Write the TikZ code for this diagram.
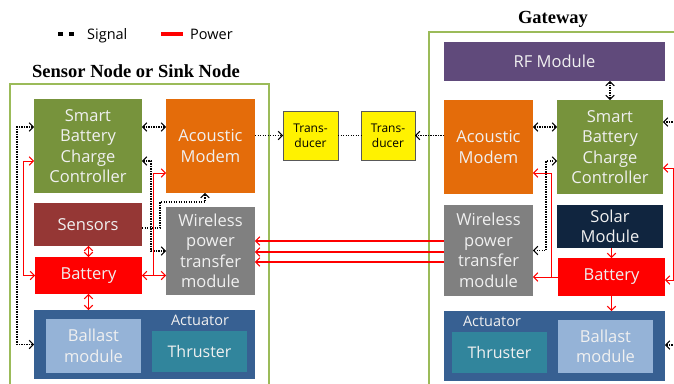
\documentclass[tikz,border=0pt]{standalone}
\usepackage{fontspec}
\setmainfont{Open Sans}
\newfontfamily\titlefont{Liberation Serif}
\usetikzlibrary{arrows.meta}

\definecolor{framegreen}{HTML}{9BBB59}
\definecolor{ctrlgreen}{HTML}{77933C}
\definecolor{modemorange}{HTML}{E46C0A}
\definecolor{sensred}{HTML}{953735}
\definecolor{wptgray}{HTML}{808080}
\definecolor{actblue}{HTML}{376092}
\definecolor{ballblue}{HTML}{95B3D7}
\definecolor{thrteal}{HTML}{31859C}
\definecolor{rfpurple}{HTML}{604A7B}
\definecolor{solarnavy}{HTML}{10253F}
\definecolor{boxtext}{HTML}{F0F0F0}
\definecolor{transborder}{HTML}{595959}

\begin{document}
\begin{tikzpicture}[x=1pt,y=-1pt,
  blk/.style={inner sep=0pt, outer sep=0pt, align=center, text=boxtext,
    font=\fontsize{16.5}{20.5}\selectfont},
  trans/.style={inner sep=0pt, outer sep=0pt, align=center, fill=yellow,
    draw=transborder, line width=1pt, font=\fontsize{12}{15}\selectfont},
  frame/.style={draw=framegreen, line width=1.2pt},
  heading/.style={font=\titlefont\bfseries\fontsize{18.5}{22}\selectfont, anchor=base},
  sublabel/.style={text=boxtext, font=\fontsize{14.5}{17}\selectfont, inner sep=0pt},
  legendtext/.style={font=\fontsize{14.5}{17}\selectfont, anchor=base west, inner sep=0pt},
  sig/.style={line width=1.1pt, dash pattern=on 1.2pt off 1.3pt, black},
  pow/.style={line width=1pt, red},
  wire/.style={line width=1.4pt, red},
  >={Straight Barb[length=4pt,width=8.5pt,line width=1.1pt]}]

\useasboundingbox (0,0) rectangle (674,383);
\clip (0,0) rectangle (674,383);

% legend
\coordinate (sigA) at (58,34);
\coordinate (sigB) at (75,34);
\draw[line width=4.5pt, dash pattern=on 4.5pt off 6.5pt] (sigA) -- (sigB);
\node[legendtext] (sigtxt) at (87,39) {Signal};
\coordinate (powA) at (161,34);
\coordinate (powB) at (183,34);
\draw[red, line width=4pt] (powA) -- (powB);
\node[legendtext] (powtxt) at (190,39) {Power};

% group frames and headings
\draw[frame] (10,84) rectangle (269,400);
\node[heading] (ltitle) at (136,77) {Sensor Node or Sink Node};
\draw[frame] (429,32) rectangle (700,400);
\node[heading] (rtitle) at (553,23) {Gateway};

% sensor / sink node blocks
\node[blk, fill=ctrlgreen, minimum width=108pt, minimum height=94pt] (lsbcc) at (88,146) {Smart\\Battery\\Charge\\Controller};
\node[blk, fill=modemorange, minimum width=89pt, minimum height=94pt] (lmodem) at (210.5,146) {Acoustic\\Modem};
\node[blk, fill=sensred, minimum width=108pt, minimum height=43pt] (lsens) at (88,224.5) {Sensors};
\node[blk, fill=red, minimum width=107pt, minimum height=37pt] (lbat) at (88.5,275.5) {Battery};
\node[blk, fill=wptgray, minimum width=89pt, minimum height=88pt] (lwpt) at (210.5,251) {Wireless\\power\\transfer\\module};
\node[blk, fill=actblue, minimum width=221pt, minimum height=69pt] (lact) at (144.5,344.5) {};
\node[blk, fill=ballblue, minimum width=95pt, minimum height=54pt] (lball) at (93.5,346) {Ballast\\module};
\node[blk, fill=thrteal, minimum width=95pt, minimum height=41pt, font=\fontsize{16}{20}\selectfont] (lthr) at (199.5,351.5) {Thruster};
\node[sublabel] (lactlbl) at (200,320) {Actuator};

% transducers
\node[trans, minimum width=55pt, minimum height=49pt] (tr1) at (310.5,135.5) {Trans-\\ducer};
\node[trans, minimum width=54pt, minimum height=49pt] (tr2) at (388,135.5) {Trans-\\ducer};

% gateway blocks
\node[blk, fill=rfpurple, minimum width=221pt, minimum height=39pt] (rrf) at (554.5,61.5) {RF Module};
\node[blk, fill=modemorange, minimum width=89pt, minimum height=94pt] (rmodem) at (488.5,147) {Acoustic\\Modem};
\node[blk, fill=ctrlgreen, minimum width=106pt, minimum height=94pt] (rsbcc) at (610,147) {Smart\\Battery\\Charge\\Controller};
\node[blk, fill=wptgray, minimum width=89pt, minimum height=91pt] (rwpt) at (488.5,250.5) {Wireless\\power\\transfer\\module};
\node[blk, fill=solarnavy, minimum width=106pt, minimum height=43pt] (rsolar) at (610,226.5) {Solar\\Module};
\node[blk, fill=red, minimum width=107pt, minimum height=38pt] (rbat) at (611.5,277) {Battery};
\node[blk, fill=actblue, minimum width=221pt, minimum height=70pt] (ract) at (554.5,346) {};
\node[blk, fill=thrteal, minimum width=95pt, minimum height=41pt, font=\fontsize{16}{20}\selectfont] (rthr) at (499.5,352.5) {Thruster};
\node[blk, fill=ballblue, minimum width=95pt, minimum height=53pt] (rball) at (605.5,346.5) {Ballast\\module};
\node[sublabel] (ractlbl) at (492,321) {Actuator};

% signal lines, sensor / sink node
\draw[sig,<->] ([yshift=19pt]lsbcc.east) -- ([yshift=19pt]lsbcc.east -| lmodem.west);
\draw[sig,<->] ([yshift=19pt]lsbcc.west) -- ++(-17,0) |- (lact.west);
\draw[sig,<->] ([yshift=-15pt]lsbcc.east) -- ++(9,0) |- (lwpt.west);
\draw[sig,->] ([yshift=-3.5pt]lsens.east) -| ++(18,-26) -| ([xshift=-5.5pt]lmodem.south);
\draw[sig,->] (tr1.west -| lmodem.east) -- (tr1.west);
\draw[sig] (tr1.east) -- (tr2.west);
\draw[sig,->] (tr2.east -| rmodem.west) -- (tr2.east);

% power lines, sensor / sink node
\draw[pow,<->] ([yshift=-15pt]lsbcc.west) -- ++(-11,0) |- (lbat.west);
\draw[pow,<->] (lbat.north |- lsens.south) -- (lbat.north);
\draw[pow,<->] (lbat.south) -- (lbat.south |- lact.north);
\draw[pow,<->] (lbat.east) -- (lbat.east -| lwpt.west);
\draw[pow,->] ([xshift=11pt]lbat.east) |- ([yshift=-27pt]lmodem.west);

% wireless power link
\foreach \dy in {9.5,-1.5,-11.5}
  \draw[wire,->] ([yshift=\dy pt]rwpt.west) -- ([yshift=\dy pt]rwpt.west -| lwpt.east);

% signal lines, gateway
\draw[sig,<->] (rsbcc.north |- rrf.south) -- (rsbcc.north);
\draw[sig,<->] ([yshift=20pt]rmodem.east) -- ([yshift=20pt]rmodem.east -| rsbcc.west);
\draw[sig,<->] ([yshift=-14pt]rsbcc.west) -- ++(-11,0) |- (rwpt.east);
\coordinate (extA) at (700,122);
\coordinate (extB) at (700,345);
\draw[sig,->] (extA) -- (extA -| rsbcc.east);
\draw[sig,->] (extB) -- (extB -| ract.east);

% power lines, gateway
\draw[pow,->] (rbat.west) -- (rbat.west -| rwpt.east);
\draw[pow,->] ([xshift=-7pt]rbat.west) |- ([yshift=-26pt]rmodem.east);
\draw[pow,->] (rbat.north |- rsolar.south) -- (rbat.north);
\draw[pow,->] (rbat.south) -- (rbat.south |- ract.north);
\draw[pow,<->] ([yshift=-21pt]rsbcc.east) -- ++(10,0) |- ([yshift=-3pt]rbat.east);

\end{tikzpicture}
\end{document}
